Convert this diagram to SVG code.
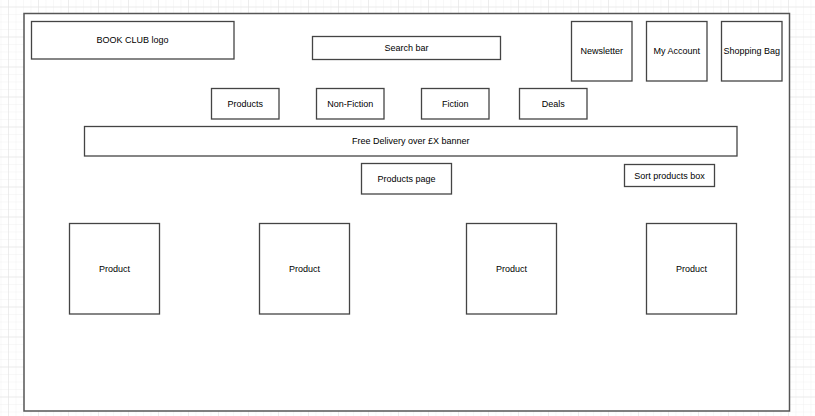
<svg xmlns="http://www.w3.org/2000/svg" width="815" height="416" viewBox="0 0 815 416">
<defs>
<pattern id="minor" x="8" y="6.5" width="7.5" height="7.5" patternUnits="userSpaceOnUse">
<path d="M0 0H7.5M0 0V7.5" fill="none" stroke="#f1f1f1" stroke-width="1"/>
</pattern>
<pattern id="major" x="8" y="6.5" width="30" height="30" patternUnits="userSpaceOnUse">
<path d="M0 0H30M0 0V30" fill="none" stroke="#e2e2e2" stroke-width="1"/>
</pattern>
</defs>
<style>
.box{fill:#fff;stroke:#444;stroke-width:1.3}
.frame{fill:#fff;stroke:#555;stroke-width:1.5}
.t{font-family:"Liberation Sans",Arial,sans-serif;font-size:9px;fill:#000;text-anchor:middle}
</style>
<rect width="815" height="416" fill="#fff"/>
<rect width="815" height="416" fill="url(#minor)"/>
<rect width="815" height="416" fill="url(#major)"/>
<g id="frame"><rect class="frame" x="24" y="13.5" width="765.5" height="397.5"/></g>
<g id="connectors"></g>
<g id="logo"><rect class="box" x="31.5" y="21.5" width="202.5" height="37.5"/><text class="t" x="132.5" y="43.2">BOOK CLUB logo</text></g>
<g id="search"><rect class="box" x="312.5" y="36.5" width="188" height="23"/><text class="t" x="406.5" y="51">Search bar</text></g>
<g id="newsletter"><rect class="box" x="571.5" y="21.5" width="60.5" height="59.5"/><text class="t" x="601.7" y="54.3">Newsletter</text></g>
<g id="account"><rect class="box" x="646.5" y="21.5" width="60.5" height="59.5"/><text class="t" x="676.7" y="54.3">My Account</text></g>
<g id="bag"><rect class="box" x="721.5" y="21.5" width="60.5" height="59.5"/><text class="t" x="751.7" y="54.3">Shopping Bag</text></g>
<g id="nav-products"><rect class="box" x="211.5" y="88.5" width="67.5" height="30.5"/><text class="t" x="245.2" y="107">Products</text></g>
<g id="nav-nonfiction"><rect class="box" x="316.5" y="88.5" width="67.5" height="30.5"/><text class="t" x="350.2" y="107">Non-Fiction</text></g>
<g id="nav-fiction"><rect class="box" x="421.5" y="88.5" width="67.5" height="30.5"/><text class="t" x="455.2" y="107">Fiction</text></g>
<g id="nav-deals"><rect class="box" x="519.5" y="88.5" width="67.5" height="30.5"/><text class="t" x="553.2" y="107">Deals</text></g>
<g id="banner"><rect class="box" x="84.5" y="126.5" width="652.5" height="29.5"/><text class="t" x="410.7" y="144.4">Free Delivery over £X banner</text></g>
<g id="products-page"><rect class="box" x="361.5" y="163.5" width="90" height="30.5"/><text class="t" x="406.5" y="182">Products page</text></g>
<g id="sort"><rect class="box" x="624.5" y="164.5" width="90" height="22"/><text class="t" x="669.5" y="178.5">Sort products box</text></g>
<g id="product1"><rect class="box" x="69.5" y="223.5" width="90" height="90.5"/><text class="t" x="114.5" y="271.8">Product</text></g>
<g id="product2"><rect class="box" x="259.5" y="223.5" width="90" height="90.5"/><text class="t" x="304.5" y="271.8">Product</text></g>
<g id="product3"><rect class="box" x="466.5" y="223.5" width="90" height="90.5"/><text class="t" x="511.5" y="271.8">Product</text></g>
<g id="product4"><rect class="box" x="646.5" y="223.5" width="90" height="90.5"/><text class="t" x="691.5" y="271.8">Product</text></g>
</svg>
